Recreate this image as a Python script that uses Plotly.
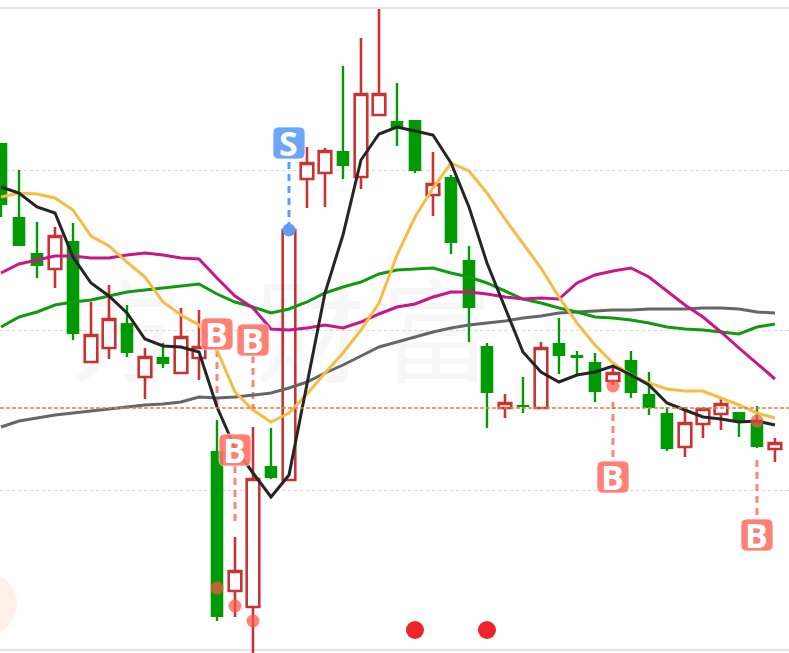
import plotly.graph_objects as go

# Price scale units (no visible axis labels in the reference)
highs = [510,483,431,426,430,351,368,348,305,310,345,343,233,116,226,225,423,506,505,587,615,644,570,533,501,478,407,310,259,276,311,335,302,300,288,302,281,246,246,246,254,241,247,215]
lows = [436,407,375,365,313,291,294,296,254,285,280,273,32,36,0,174,173,445,446,474,464,538,507,480,437,399,311,225,235,240,245,279,279,251,268,255,238,202,196,215,223,216,205,191]
opens = [510,436,400,384,412,291,305,330,276,296,280,295,202,62,46,187,173,474,480,502,476,538,532,533,458,476,393,307,245,248,245,310,298,291,272,293,259,240,206,229,239,241,233,204]
closes = [448,407,387,417,319,318,334,300,296,289,316,306,36,82,174,175,423,490,502,487,559,559,525,482,469,410,345,260,250,246,305,297,295,261,280,260,245,204,230,244,249,231,206,210]

ma5 = [466,460,446,440,396,370,357,340,314,307,306,301,246,205,180,156,178,270,360,418,493,519,526,522,518,490,446,390,346,301,281,271,278,281,287,278,268,250,243,236,234,231,232,228]
ma10 = [456,460,459,455,443,417,407,391,376,351,338,328,303,261,243,231,240,259,280,300,323,350,398,436,465,490,482,460,434,410,385,356,330,308,290,278,270,264,262,262,255,248,240,235]
ma20 = [380,389,393,397,397,395,395,398,400,398,395,394,375,357,345,324,323,325,328,325,331,339,346,349,356,361,361,359,356,354,355,354,370,378,382,385,376,362,348,336,321,305,289,274]
ma30 = [326,336,341,348,351,353,357,361,363,365,367,369,359,351,346,340,344,351,360,366,371,379,383,384,385,380,376,370,362,354,350,345,341,336,335,333,330,326,324,323,321,319,326,329]
ma60 = [226,232,235,238,240,242,244,246,248,249,251,256,255,256,258,260,265,271,280,288,297,306,311,316,321,325,328,330,332,335,337,340,341,342,343,343,344,344,344,345,345,344,341,340]

days = list(range(len(closes)))
last_close = 245
grid_levels = [163, 323, 483]
frame_levels = [3, 645]

buy_days = [12, 14, 13, 34, 42]
buy_badge = [319, 313, 203, 176, 118]
buy_dot = [65, 32, 47, 267, 232]
buy_dash_from = [303, 297, 187, 251, 193]
buy_dash_to = [245, 243, 129, 195, 137]
sell_days = [16]
sell_badge = [510]
sell_dot = [423]
sell_dash_from = [491]

alert_days = [23, 27]
alert_level = [23, 23]

watermark_chars = ["方", "财", "富"]
watermark_days = [6.9, 17.2, 24.2]
watermark_level = [307, 307, 307]

RED = "#C83434"
GREEN = "#009A05"
BUY = "#FF7365"
SELL = "#5C9DFA"

fig = go.Figure()

fig.add_trace(go.Scatter(x=watermark_days, y=watermark_level, mode="text", text=watermark_chars,
                         textposition="middle center",
                         textfont=dict(family="Noto Sans CJK SC", size=112, color="rgba(0,0,0,0.03)")))

fig.add_trace(go.Scatter(x=[-0.83], y=[49], mode="markers",
                         marker=dict(size=62, color="#FFF1EA"), hoverinfo="skip"))

for d, a, b in zip(buy_days, buy_dash_from, buy_dash_to):
    fig.add_trace(go.Scatter(x=[d, d], y=[a, b], mode="lines",
                             line=dict(color="#FF8478", width=3, dash="7px,5px")))
for d, a, b in zip(sell_days, sell_dash_from, sell_dot):
    fig.add_trace(go.Scatter(x=[d, d], y=[a, b], mode="lines",
                             line=dict(color=SELL, width=3, dash="7px,5px")))

# green wicks are drawn apart so that green bodies can go without an outline
wick_x, wick_y = [], []
for d, h, l, o, c in zip(days, highs, lows, opens, closes):
    if c < o:
        wick_x += [d, d, None]
        wick_y += [h, l, None]
fig.add_trace(go.Scatter(x=wick_x, y=wick_y, mode="lines", line=dict(color=GREEN, width=2.4)))

fig.add_trace(go.Candlestick(
    x=days, open=opens, high=highs, low=lows, close=closes,
    increasing=dict(line=dict(color=RED, width=2.6), fillcolor="white"),
    decreasing=dict(line=dict(color=GREEN, width=0), fillcolor=GREEN),
    whiskerwidth=0,
))

for series, colour in [(ma60, "#666666"), (ma30, "#119A11"), (ma20, "#C8178A"),
                       (ma10, "#F6BC45"), (ma5, "#252525")]:
    fig.add_trace(go.Scatter(x=days, y=series, mode="lines",
                             line=dict(color=colour, width=3)))

fig.add_trace(go.Scatter(x=buy_days, y=buy_dot, mode="markers",
                         marker=dict(size=13, color="rgba(255,85,70,0.72)")))
fig.add_trace(go.Scatter(x=sell_days, y=sell_dot, mode="markers",
                         marker=dict(size=13, color=SELL)))
fig.add_trace(go.Scatter(x=alert_days, y=alert_level, mode="markers",
                         marker=dict(size=18, color="#EE2428")))

shapes = []
for lv in frame_levels:
    shapes.append(dict(type="line", xref="paper", x0=0, x1=1, yref="y", y0=lv, y1=lv,
                       line=dict(color="#E6E6E6", width=2.5), layer="below"))
shapes.append(dict(type="line", xref="paper", x0=0, x1=1, yref="y", y0=last_close, y1=last_close,
                   line=dict(color="#E07F45", width=1.3, dash="4px,2px"), layer="above"))

RR = "M-16,-10 Q-16,-16 -10,-16 L10,-16 Q16,-16 16,-10 L16,10 Q16,16 10,16 L-10,16 Q-16,16 -16,10 Z"
annotations = []
def badge(day, level, colour, letter):
    shapes.append(dict(type="path", path=RR, xref="x", yref="y", xsizemode="pixel", ysizemode="pixel",
                       xanchor=day, yanchor=level, fillcolor=colour, opacity=0.9,
                       line=dict(color="rgba(255,255,255,0.7)", width=1), layer="above"))
    annotations.append(dict(x=day, y=level, text=f"<b>{letter}</b>", showarrow=False,
                            font=dict(family="Open Sans", size=34, color="white"),
                            xanchor="center", yanchor="middle"))

for d, l in zip(buy_days, buy_badge):
    badge(d, l, BUY, "B")
for d, l in zip(sell_days, sell_badge):
    badge(d, l, SELL, "S")

fig.update_layout(
    width=789, height=653, margin=dict(l=0, r=0, t=0, b=0),
    paper_bgcolor="white", plot_bgcolor="white", showlegend=False,
    boxmode="overlay", boxgap=0.3, boxgroupgap=0, shapes=shapes, annotations=annotations,
    xaxis=dict(range=[-0.0556, 43.78], visible=False, rangeslider=dict(visible=False)),
    yaxis=dict(range=[0, 653], tickvals=grid_levels, showticklabels=False, ticks="",
               showgrid=True, gridcolor="#D8D8D8", griddash="dot", gridwidth=1, zeroline=False),
)
fig.write_html("out.html", config={"displayModeBar": False},
               post_script="document.body.style.margin='0';document.body.style.overflow='hidden';")
